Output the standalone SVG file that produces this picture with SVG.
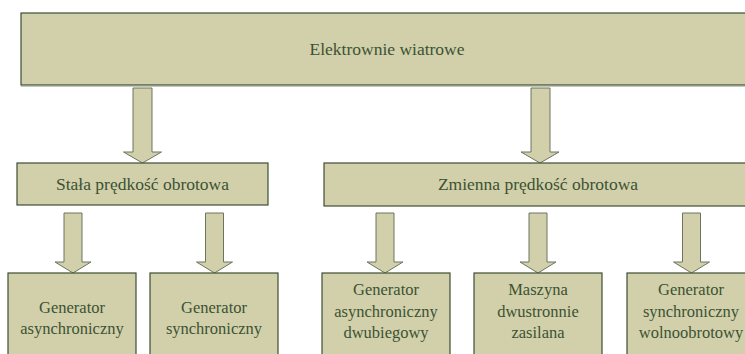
<svg xmlns="http://www.w3.org/2000/svg" width="745" height="354" viewBox="0 0 745 354">
<style>
.box{fill:#d1d0aa;stroke:#3f4d35;stroke-width:1.2}
.arr{fill:#d1d0aa;stroke:#6c7560;stroke-width:1}
</style>
<rect width="745" height="354" fill="#ffffff"/>
<g id="connectors">
<path class="arr" d="M133,88 H152 V152 H161.5 L142.5,163 L123.5,152 H133 Z"/>
<path class="arr" d="M531,88 H550 V152 H559 L540,163 L521,152 H531 Z"/>
<path class="arr" d="M64,213 H82 V262 H91 L73,273 L55,262 H64 Z"/>
<path class="arr" d="M205.5,213 H223.5 V262 H232.5 L214.5,273 L196.5,262 H205.5 Z"/>
<path class="arr" d="M376,213 H394 V262 H403 L385,273 L367,262 H376 Z"/>
<path class="arr" d="M529,213 H547 V262 H556 L538,273 L520,262 H529 Z"/>
<path class="arr" d="M682.5,213 H700.5 V262 H709.5 L691.5,273 L673.5,262 H682.5 Z"/>
</g>
<g id="n-elektrownie">
<rect class="box" x="21" y="13" width="740" height="72"/>
<line x1="21" y1="86" x2="761" y2="86" stroke="#8a937c" stroke-width="1"/>
<text font-family="Liberation Serif" font-size="17.5" fill="#3d5233" text-anchor="middle" x="387" y="55">Elektrownie wiatrowe</text>
</g>
<g id="n-stala">
<rect class="box" x="17" y="163" width="251" height="42"/>
<text font-family="Liberation Serif" font-size="17.5" fill="#3d5233" text-anchor="middle" x="142.5" y="190">Stała prędkość obrotowa</text>
</g>
<g id="n-zmienna">
<rect class="box" x="324" y="163" width="432" height="43"/>
<text font-family="Liberation Serif" font-size="17.5" fill="#3d5233" text-anchor="middle" x="538" y="190">Zmienna prędkość obrotowa</text>
</g>
<g id="n-gen-async">
<rect class="box" x="8" y="273" width="128" height="100"/>
<text font-family="Liberation Serif" font-size="16.5" fill="#3d5233" text-anchor="middle" x="72" y="313">Generator</text>
<text font-family="Liberation Serif" font-size="16.5" fill="#3d5233" text-anchor="middle" x="72" y="334">asynchroniczny</text>
</g>
<g id="n-gen-sync">
<rect class="box" x="150" y="273" width="128" height="100"/>
<text font-family="Liberation Serif" font-size="16.5" fill="#3d5233" text-anchor="middle" x="214" y="313">Generator</text>
<text font-family="Liberation Serif" font-size="16.5" fill="#3d5233" text-anchor="middle" x="214" y="334">synchroniczny</text>
</g>
<g id="n-gen-async-dwu">
<rect class="box" x="322" y="273" width="128" height="100"/>
<text font-family="Liberation Serif" font-size="16.5" fill="#3d5233" text-anchor="middle" x="386" y="295">Generator</text>
<text font-family="Liberation Serif" font-size="16.5" fill="#3d5233" text-anchor="middle" x="386" y="317">asynchroniczny</text>
<text font-family="Liberation Serif" font-size="16.5" fill="#3d5233" text-anchor="middle" x="386" y="338">dwubiegowy</text>
</g>
<g id="n-maszyna">
<rect class="box" x="474" y="273" width="128" height="100"/>
<text font-family="Liberation Serif" font-size="16.5" fill="#3d5233" text-anchor="middle" x="538" y="295">Maszyna</text>
<text font-family="Liberation Serif" font-size="16.5" fill="#3d5233" text-anchor="middle" x="538" y="317">dwustronnie</text>
<text font-family="Liberation Serif" font-size="16.5" fill="#3d5233" text-anchor="middle" x="538" y="338">zasilana</text>
</g>
<g id="n-gen-sync-wolno">
<rect class="box" x="627" y="273" width="128" height="100"/>
<text font-family="Liberation Serif" font-size="16.5" fill="#3d5233" text-anchor="middle" x="691" y="295">Generator</text>
<text font-family="Liberation Serif" font-size="16.5" fill="#3d5233" text-anchor="middle" x="691" y="317">synchroniczny</text>
<text font-family="Liberation Serif" font-size="16.5" fill="#3d5233" text-anchor="middle" x="691" y="338">wolnoobrotowy</text>
</g>
</svg>
